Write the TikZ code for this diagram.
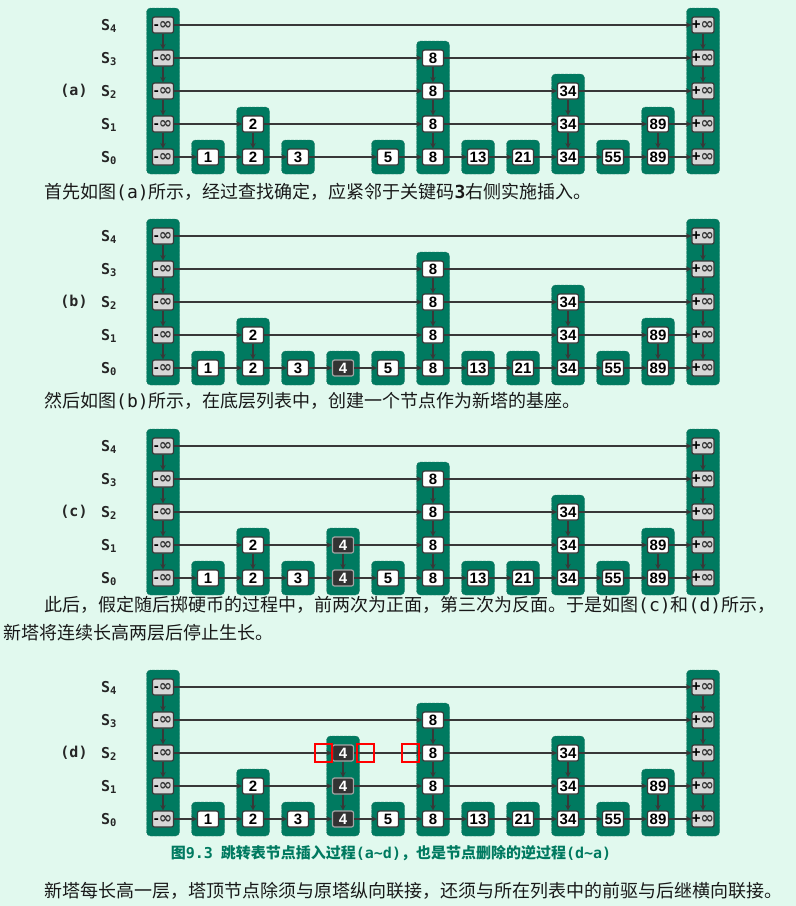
\documentclass[tikz,border=0pt]{standalone}
\usepackage{fontspec}
\setmainfont{Noto Sans CJK SC}
\newfontfamily\keyfont{Liberation Sans}
\newfontfamily\infont{DejaVu Sans}
\newfontfamily\codefont{DejaVu Sans Mono}
\usetikzlibrary{arrows.meta}

\definecolor{mintbg}{HTML}{E1F9EE}
\definecolor{towerteal}{HTML}{007A60}
\definecolor{linkgray}{HTML}{383838}
\definecolor{sentgray}{HTML}{D6D6D6}
\definecolor{newdark}{HTML}{333333}

\newcommand{\neginf}{{\bfseries-}{\infont\fontsize{16}{16}\selectfont\color{linkgray}∞}}
\newcommand{\posinf}{{\bfseries+}{\infont\fontsize{16}{16}\selectfont\color{linkgray}∞}}

\tikzset{
  keybox/.style={draw=linkgray, line width=1.2pt, fill=white, rounded corners=2pt,
    minimum width=21pt, minimum height=16pt, inner sep=0pt,
    font=\keyfont\bfseries\fontsize{15}{15}\selectfont},
  sentinel/.style={keybox, fill=sentgray},
  newkey/.style={keybox, fill=newdark, draw=gray!70, text=white},
  tower/.style={fill=towerteal, draw=towerteal!75!gray, dash pattern=on 3pt off 1pt,
    line width=0.4pt, rounded corners=4pt},
  link/.style={draw=linkgray, line width=1.3pt, -{Stealth[length=5.5pt,width=5.5pt]}},
  rowlabel/.style={anchor=west, inner sep=0pt, text=black!85,
    font=\codefont\bfseries\fontsize{15}{15}\selectfont},
  panellabel/.style={inner sep=0pt, text=black!85,
    font=\codefont\bfseries\fontsize{15}{15}\selectfont},
  para/.style={anchor=west, inner sep=0pt, text=black!90, font=\fontsize{18}{18}\selectfont},
  hilite/.style={draw=red, line width=1.6pt, minimum width=17pt, minimum height=18pt, inner sep=0pt},
}

% one skip list: #1 name, #2 label, #3 y of row S4, #4 height of the tower of 4
\newcommand{\skiplist}[4]{%
  \def\cols{0/\neginf/5/sentinel, 1/1/1/keybox, 2/2/2/keybox, 3/3/1/keybox,
    4/4/#4/newkey, 5/5/1/keybox, 6/8/4/keybox, 7/13/1/keybox, 8/21/1/keybox,
    9/34/3/keybox, 10/55/1/keybox, 11/89/2/keybox, 12/\posinf/5/sentinel}
  % row labels
  \node[panellabel] (#1-tag) at (74, #3+66) {#2};
  \foreach \l in {0,...,4}
    \node[rowlabel] (#1-s\l) at (101, #3+133-33*\l) {S\textsubscript{\l}};
  % towers and their keys
  \foreach \c/\k/\h/\s in \cols {
    \ifnum\h>0
      \fill[tower] (163+45*\c-16.5, #3+165-33*\h-17) rectangle (163+45*\c+16.5, #3+132+17);
      \pgfmathtruncatemacro\toplevel{\h-1}
      \foreach \l in {0,...,\toplevel}
        \node[\s] (#1-\c-\l) at (163+45*\c, #3+132-33*\l) {\k};
    \fi
    \ifnum\h>1
      \foreach \l in {1,...,\toplevel} {
        \pgfmathtruncatemacro\lvlbelow{\l-1}
        \draw[link] (#1-\c-\l) -- (#1-\c-\lvlbelow);
      }
    \fi
  }
  % links along each level
  \foreach \l in {0,...,4} {
    \gdef\prevcol{}
    \foreach \c/\k/\h/\s in \cols {
      \ifnum\h>\l\relax
        \ifx\prevcol\empty\else
          \draw[link] (#1-\prevcol-\l) -- (#1-\c-\l);
        \fi
        \xdef\prevcol{\c}
      \fi
    }
  }
}

\begin{document}
\begin{tikzpicture}[x=1pt, y=-1pt]

\fill[mintbg] (0,0) rectangle (796,906);

% (a) before insertion
\skiplist{a}{(a)}{25}{0}
\node[para] (txt-a) at (44,192) {首先如图{\codefont(a)}所示，经过查找确定，应紧邻于关键码{\codefont\bfseries 3}右侧实施插入。};

% (b) new base in S0
\skiplist{b}{(b)}{236}{1}
\node[para] (txt-b) at (44,401) {然后如图{\codefont(b)}所示，在底层列表中，创建一个节点作为新塔的基座。};

% (c) tower grows to S1
\skiplist{c}{(c)}{446}{2}
\node[para] (txt-c1) at (44,605) {此后，假定随后掷硬币的过程中，前两次为正面，第三次为反面。于是如图{\codefont(c)}和{\codefont(d)}所示，};
\node[para] (txt-c2) at (3,633) {新塔将连续长高两层后停止生长。};

% (d) tower grows to S2
\skiplist{d}{(d)}{687}{3}
\node[hilite, anchor=east] (hl-in) at ([xshift=1pt]d-4-2.west) {};
\node[hilite, anchor=west] (hl-out) at ([xshift=2pt]d-4-2.east) {};
\node[hilite, anchor=east] (hl-succ) at ([xshift=-2pt]d-6-2.west) {};

\node[text=towerteal, font=\bfseries\fontsize{15}{15}\selectfont] (caption) at (391,853)
  {图{\codefont 9.3}\hspace{8pt}跳转表节点插入过程{\codefont(a\textasciitilde d)}，也是节点删除的逆过程{\codefont(d\textasciitilde a)}};
\node[para] (txt-end) at (44,891) {新塔每长高一层，塔顶节点除须与原塔纵向联接，还须与所在列表中的前驱与后继横向联接。};

\end{tikzpicture}
\end{document}
